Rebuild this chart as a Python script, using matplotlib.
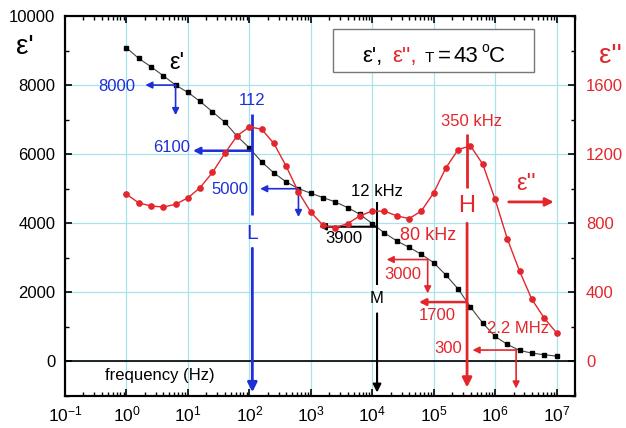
import matplotlib
matplotlib.use("Agg")
import matplotlib.pyplot as plt
from matplotlib.patches import Rectangle
from matplotlib.ticker import FixedLocator, MultipleLocator, NullFormatter

plt.rcParams["font.family"] = ["Liberation Sans", "DejaVu Sans"]
plt.rcParams["mathtext.fontset"] = "custom"
plt.rcParams["mathtext.rm"] = "Liberation Sans"
plt.rcParams["mathtext.it"] = "Liberation Sans:italic"

# frequency (Hz), 5 points per decade
freq = [1, 1.585, 2.512, 3.981, 6.31,
        10, 15.85, 25.12, 39.81, 63.1,
        100, 158.5, 251.2, 398.1, 631,
        1e3, 1585, 2512, 3981, 6310,
        1e4, 15850, 25120, 39810, 63100,
        1e5, 158500, 251200, 398100, 631000,
        1e6, 1.585e6, 2.512e6, 3.981e6, 6.31e6,
        1e7]
# real part eps' (left axis)
eps1 = [9080, 8773, 8531, 8270, 8000,
        7788, 7527, 7227, 6928, 6522,
        6183, 5777, 5458, 5197, 5005,
        4870, 4744, 4618, 4454, 4260,
        3990, 3720, 3488, 3304, 3101,
        2860, 2501, 2096, 1574, 1110,
        725, 493, 319, 241, 194,
        154]
# imaginary part eps'' (right axis)
eps2 = [968, 918, 900, 894, 910,
        947, 1007, 1094, 1204, 1306,
        1358, 1345, 1262, 1130, 981,
        865, 788, 775, 798, 843,
        871, 870, 843, 827, 871,
        976, 1121, 1227, 1248, 1142,
        939, 709, 522, 359, 251,
        166]

x_ticks = [1e-1, 1e0, 1e1, 1e2, 1e3, 1e4, 1e5, 1e6, 1e7]
x_labels = ["$10^{-1}$", "$10^{0}$", "$10^{1}$", "$10^{2}$", "$10^{3}$",
            "$10^{4}$", "$10^{5}$", "$10^{6}$", "$10^{7}$"]
x_minor = [m * 10.0 ** e for e in range(-1, 7) for m in range(2, 10)] + [2e7]

RED = "#e3262b"
BLUE = "#1f2fd6"
GRID = "#a6e3ec"

W, H = 626, 428
fig = plt.figure(figsize=(W / 100, H / 100), dpi=100)
ax = fig.add_axes([65 / W, 1 - 396 / H, 510 / W, 380 / H])
ax2 = ax.twinx()

ax.set_xscale("log")
ax.set_xlim(0.1, 2e7)
ax.set_ylim(-1000, 10000)
ax2.set_ylim(-200, 2000)

ax.set_xticks(x_ticks)
ax.set_xticklabels(x_labels)
ax.xaxis.set_minor_locator(FixedLocator(x_minor))
ax.xaxis.set_minor_formatter(NullFormatter())
ax.set_yticks(range(0, 10001, 2000))
ax.yaxis.set_minor_locator(MultipleLocator(1000))
ax2.set_yticks(range(0, 1601, 400))
ax2.yaxis.set_minor_locator(MultipleLocator(200))

ax.grid(True, which="major", color=GRID, lw=0.9, zorder=0)
ax.set_axisbelow(True)
ax.axhline(0, color="black", lw=1.2, zorder=1)

for a in (ax, ax2):
    for s in a.spines.values():
        s.set_linewidth(1.5)
ax.tick_params(axis="x", which="both", direction="in", top=True, pad=6, labelsize=12.5)
ax.tick_params(axis="y", which="both", direction="in", left=True, right=False, pad=7, labelsize=12)
ax2.tick_params(axis="y", which="both", direction="in", pad=8, labelsize=12, labelcolor=RED)
for a in (ax, ax2):
    a.tick_params(which="major", length=5, width=1.2)
    a.tick_params(which="minor", length=3, width=1.0)

ax.plot(freq, eps1, color="#444444", lw=0.8, marker="s", ms=3.3,
        mfc="black", mec="black", zorder=3)
ax2.plot(freq, eps2, color=RED, lw=1.0, marker="o", ms=3.8,
         mfc=RED, mec=RED, zorder=3)


def arrow(x0, y0, x1, y1, color, lw=1.2, ms=10):
    ax.annotate("", xy=(x1, y1), xytext=(x0, y0),
                arrowprops=dict(arrowstyle="-|>", color=color, lw=lw,
                                mutation_scale=ms, shrinkA=0, shrinkB=0))


def seg(x, y0, y1, color, lw):
    ax.plot([x, x], [y0, y1], color=color, lw=lw, solid_capstyle="butt", zorder=4)


# blue annotations
arrow(6.31, 8000, 2.03, 8000, BLUE)
arrow(6.31, 8000, 6.31, 7130, BLUE)
ax.text(1.40, 7970, "8000", color=BLUE, fontsize=12, ha="right", va="center")
ax.text(112, 7540, "112", color=BLUE, fontsize=12, ha="center", va="center")
seg(112, 7160, 4234, BLUE, 2.0)
ax.text(112, 3710, "L", color=BLUE, fontsize=15, ha="center", va="center")
arrow(112, 3276, 112, -890, BLUE, lw=2.0, ms=14)
arrow(112, 6100, 12.1, 6100, BLUE, lw=1.8)
ax.text(11.0, 6190, "6100", color=BLUE, fontsize=12, ha="right", va="center")
arrow(631, 5000, 150, 5000, BLUE)
arrow(631, 5000, 631, 4180, BLUE)
ax.text(96, 4986, "5000", color=BLUE, fontsize=12, ha="right", va="center")

# black annotations
ax.text(6.7, 8640, "\u03b5'", color="black", fontsize=17, ha="center", va="center")
ax.text(12000, 4930, "12 kHz", color="black", fontsize=12, ha="center", va="center")
seg(12000, 4610, 2203, "black", 1.5)
ax.text(12000, 1826, "M", color="black", fontsize=12, ha="center", va="center")
arrow(12000, 1391, 12000, -900, "black", lw=1.5, ms=12)
arrow(12000, 3900, 1368, 3900, "black", lw=1.5)
ax.text(3490, 3566, "3900", color="black", fontsize=12, ha="center", va="center")
ax.text(3.5, -420, "frequency (Hz)", color="black",
        fontsize=12, ha="center", va="center")

# red annotations
ax.text(4.15e5, 6940, "350 kHz", color=RED, fontsize=12, ha="center", va="center")
seg(3.5e5, 6580, 5015, RED, 2.0)
ax.text(3.5e5, 4495, "H", color=RED, fontsize=17, ha="center", va="center")
arrow(3.5e5, 4000, 3.5e5, -754, RED, lw=2.0, ms=14)
ax.text(3.16e6, 5130, "\u03b5''", color=RED, fontsize=17, ha="center", va="center")
arrow(1.67e6, 4618, 9.04e6, 4618, RED, lw=2.0, ms=12)
ax.text(8.1e4, 3654, "80 kHz", color=RED, fontsize=13, ha="center", va="center")
arrow(8.0e4, 2950, 1.72e4, 2950, RED)
arrow(8.0e4, 2950, 8.0e4, 1971, RED)
ax.text(3.17e4, 2522, "3000", color=RED, fontsize=12, ha="center", va="center")
arrow(3.5e5, 1719, 5.77e4, 1719, RED, lw=1.8)
ax.text(1.13e5, 1334, "1700", color=RED, fontsize=12, ha="center", va="center")
ax.text(2.34e6, 957, "2.2 MHz", color=RED, fontsize=12, ha="center", va="center")
arrow(2.2e6, 330, 4.3e5, 330, RED)
arrow(2.2e6, 330, 2.2e6, -783, RED)
ax.text(1.71e5, 377, "300", color=RED, fontsize=12, ha="center", va="center")

# axis titles
fig.text(25 / W, 1 - 47 / H, "\u03b5'", fontsize=20, ha="center", va="center")
fig.text(610 / W, 1 - 56 / H, "\u03b5''", fontsize=20, color=RED, ha="center", va="center")

# legend box
fig.patches.append(Rectangle((333 / W, 1 - 72 / H), 201 / W, 43 / H,
                             transform=fig.transFigure, facecolor="white",
                             edgecolor="#777777", lw=1.0, zorder=5))
base = 1 - 62 / H
fig.text(362 / W, base, "\u03b5',", fontsize=16, va="baseline", zorder=6)
fig.text(392 / W, base, "\u03b5'',", fontsize=16, color=RED, va="baseline", zorder=6)
fig.text(425 / W, base, "T", fontsize=11, va="baseline", zorder=6)
fig.text(438 / W, base, "=", fontsize=16, va="baseline", zorder=6)
fig.text(454 / W, base, "43", fontsize=16, va="baseline", zorder=6)
fig.text(481 / W, 1 - 52 / H, "o", fontsize=10, va="baseline", zorder=6)
fig.text(489 / W, base, "C", fontsize=16, va="baseline", zorder=6)

fig.savefig("out.png", dpi=100)
